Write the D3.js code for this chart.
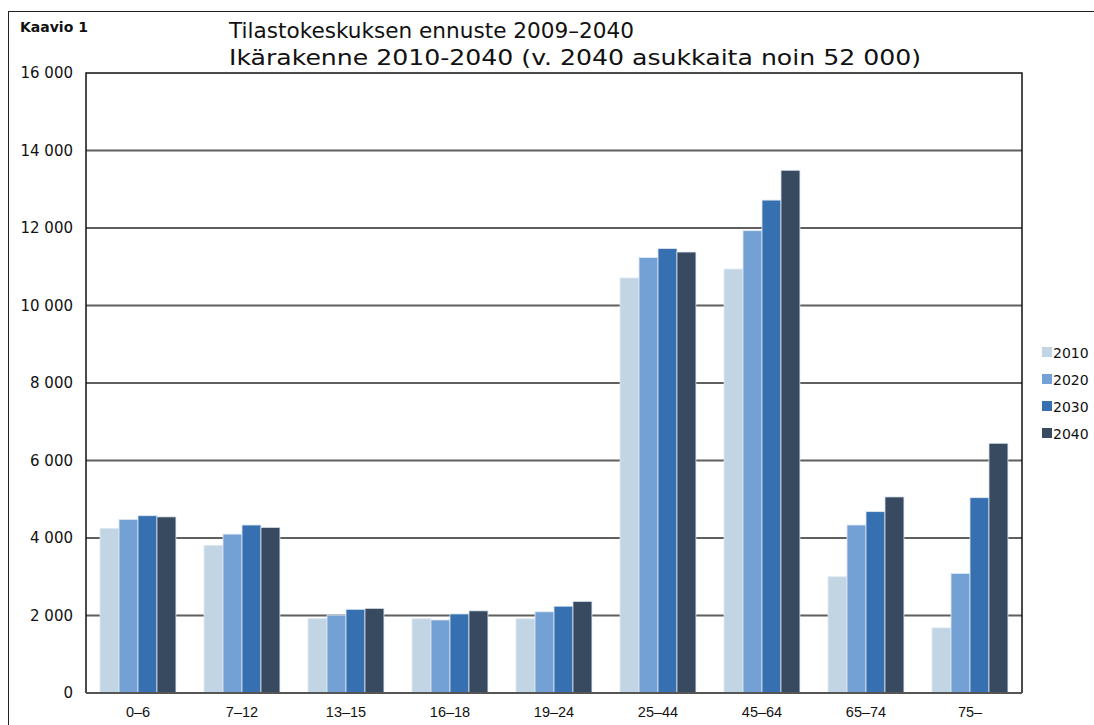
<!DOCTYPE html>
<html>
<head>
<meta charset="utf-8">
<script src="https://cdn.jsdelivr.net/npm/d3@7"></script>
<style>
  body { margin: 0; background: #fff; }
  svg { display: block; }
</style>
</head>
<body>
<div id="chart"></div>
<script>
// age groups and years
const categories = ["0–6", "7–12", "13–15", "16–18", "19–24", "25–44", "45–64", "65–74", "75–"];
const years = ["2010", "2020", "2030", "2040"];

// population per age group
const v2010 = [4250, 3810, 1920, 1915, 1915, 10710, 10940, 3000, 1680];
const v2020 = [4480, 4100, 2010, 1885, 2095, 11240, 11930, 4335, 3085];
const v2030 = [4575, 4335, 2160, 2040, 2240, 11470, 12720, 4680, 5040];
const v2040 = [4545, 4275, 2185, 2120, 2365, 11380, 13490, 5060, 6445];

const yTicks = [0, 2000, 4000, 6000, 8000, 10000, 12000, 14000, 16000];
const colors = ["#c1d5e4", "#74a1d5", "#3670b1", "#374a60"];

const width = 1094, height = 725;
const margin = {left: 86, top: 73, right: 72, bottom: 32};

const series = [v2010, v2020, v2030, v2040];
const data = categories.map((c, i) => ({cat: c, values: series.map((s, j) => ({year: years[j], value: s[i]}))}));

const svg = d3.select("#chart").append("svg")
    .attr("width", width)
    .attr("height", height);

// outer frame
svg.append("rect")
    .attr("x", 8.5).attr("y", 11.5)
    .attr("width", width + 20).attr("height", height + 20)
    .attr("fill", "none").attr("stroke", "#222").attr("stroke-width", 1);

let x = d3.scaleBand()
    .domain(categories)
    .range([margin.left, width - margin.right])
    .paddingInner(0.27)
    .paddingOuter(0.135);

let xInner = d3.scaleBand()
    .domain(years)
    .range([0, x.bandwidth()]);

let y = d3.scaleLinear()
    .domain([0, 16000])
    .range([height - margin.bottom, margin.top]);

const fmt = d => d3.format(",")(d).replace(/,/g, " ");

// grid lines
svg.append("g")
    .selectAll("line")
    .data(yTicks.slice(1, -1))
    .join("line")
    .attr("x1", margin.left)
    .attr("x2", width - margin.right)
    .attr("y1", d => y(d))
    .attr("y2", d => y(d))
    .attr("stroke", "#5f5f5f")
    .attr("stroke-width", 2);

// bars
svg.append("g")
    .selectAll("g")
    .data(data)
    .join("g")
    .attr("transform", d => `translate(${x(d.cat)},0)`)
    .selectAll("rect")
    .data(d => d.values)
    .join("rect")
    .attr("x", d => xInner(d.year))
    .attr("y", d => y(d.value))
    .attr("width", xInner.bandwidth())
    .attr("height", d => y(0) - y(d.value))
    .attr("fill", (d, i) => colors[i])
    .attr("stroke", "#dfe8f0")
    .attr("stroke-width", 0.8);

// plot border: left, top, right in black, bottom in grey
svg.append("path")
    .attr("d", `M${margin.left},${y(0)}V${margin.top}H${width - margin.right}V${y(0)}`)
    .attr("fill", "none").attr("stroke", "#111").attr("stroke-width", 1.5);
svg.append("line")
    .attr("x1", margin.left).attr("x2", width - margin.right)
    .attr("y1", y(0)).attr("y2", y(0))
    .attr("stroke", "#555").attr("stroke-width", 2);

// y axis labels
svg.append("g")
    .selectAll("text")
    .data(yTicks)
    .join("text")
    .attr("x", margin.left - 13)
    .attr("y", d => y(d) + 5)
    .attr("text-anchor", "end")
    .style("font-family", "DejaVu Sans, Verdana, sans-serif")
    .style("font-size", "15px")
    .attr("fill", "#111")
    .text(fmt);

// x axis labels
svg.append("g")
    .selectAll("text")
    .data(categories)
    .join("text")
    .attr("x", d => x(d) + x.bandwidth() / 2)
    .attr("y", height - 8)
    .attr("text-anchor", "middle")
    .style("font-family", "Liberation Sans Narrow, Liberation Sans, sans-serif")
    .style("font-size", "14.5px")
    .attr("fill", "#111")
    .text(d => d);

// titles
svg.append("text")
    .attr("x", 20).attr("y", 32)
    .style("font-family", "DejaVu Sans, Verdana, sans-serif")
    .style("font-size", "14px").style("font-weight", "bold")
    .attr("fill", "#111")
    .text("Kaavio 1");

const titleLines = ["Tilastokeskuksen ennuste 2009–2040", "Ikärakenne 2010-2040 (v. 2040 asukkaita noin 52 000)"];
const titleWidths = [405, 692];
svg.append("g")
    .selectAll("text")
    .data(titleLines)
    .join("text")
    .attr("x", 229)
    .attr("y", (d, i) => 38 + i * 27)
    .attr("textLength", (d, i) => titleWidths[i])
    .attr("lengthAdjust", "spacingAndGlyphs")
    .style("font-family", "DejaVu Sans, Verdana, sans-serif")
    .style("font-size", "21px")
    .attr("fill", "#111")
    .text(d => d);

// legend
const legend = svg.append("g")
    .selectAll("g")
    .data(years)
    .join("g")
    .attr("transform", (d, i) => `translate(1042,${347 + i * 27})`);
legend.append("rect")
    .attr("width", 10).attr("height", 10)
    .attr("fill", (d, i) => colors[i]);
legend.append("text")
    .attr("x", 11).attr("y", 11)
    .style("font-family", "DejaVu Sans, Verdana, sans-serif")
    .style("font-size", "14px")
    .attr("fill", "#111")
    .text(d => d);
</script>
</body>
</html>
